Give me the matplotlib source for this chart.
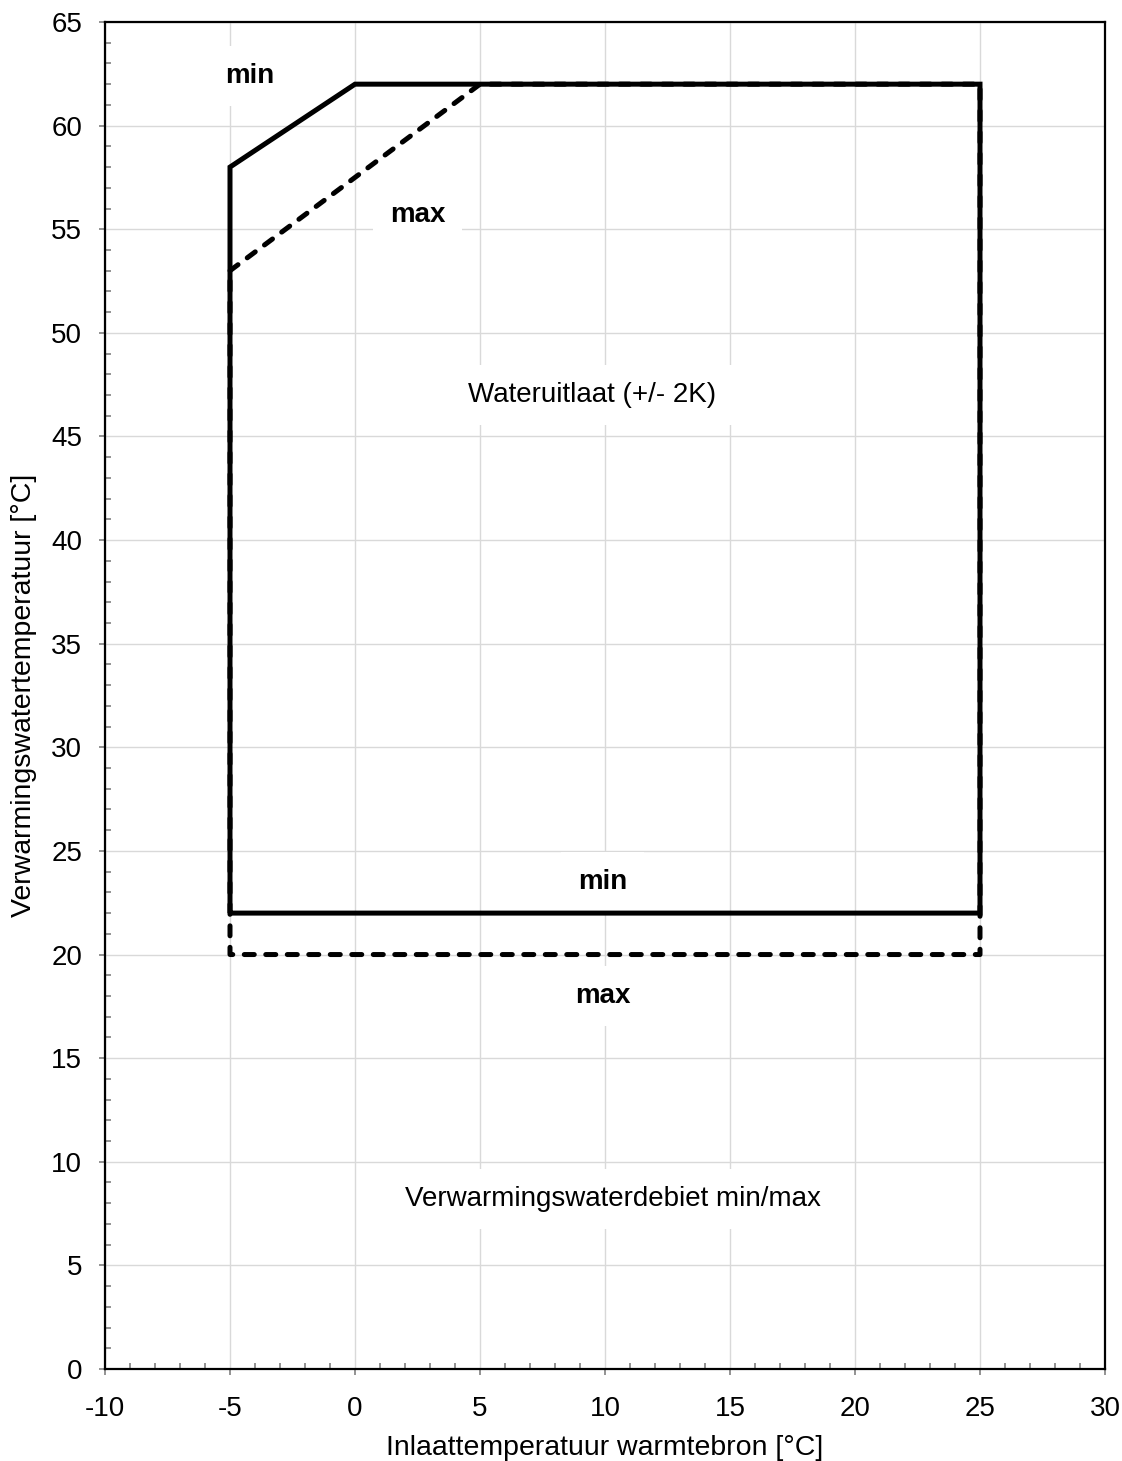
import matplotlib
matplotlib.use("Agg")
import matplotlib.pyplot as plt
from matplotlib.ticker import MultipleLocator

plt.rcParams['font.family'] = ['Liberation Sans', 'DejaVu Sans']
plt.rcParams['axes.unicode_minus'] = False

# Data
min_x = [-5, -5, 0, 25, 25, -5]
min_y = [22, 58, 62, 62, 22, 22]
max_x = [-5, 5, 25, 25, -5, -5]
max_y = [53, 62, 62, 20, 20, 53]

labels = [
    ("min", -4.2, 62.4, True),
    ("max", 2.5, 55.7, True),
    ("Wateruitlaat (+/- 2K)", 9.5, 47.0, False),
    ("min", 9.9, 23.5, True),
    ("max", 9.9, 18.0, True),
    ("Verwarmingswaterdebiet min/max", 10.3, 8.2, False),
]

fig = plt.figure(figsize=(11.22, 14.61), dpi=100)
ax = fig.add_axes([105/1122, 1 - 1369/1461, 1000/1122, 1347/1461])

ax.set_xlim(-10, 30)
ax.set_ylim(0, 65)
ax.xaxis.set_major_locator(MultipleLocator(5))
ax.yaxis.set_major_locator(MultipleLocator(5))
ax.xaxis.set_minor_locator(MultipleLocator(1))
ax.yaxis.set_minor_locator(MultipleLocator(1))
ax.grid(True, which='major', color='#d9d9d9', lw=1)
ax.set_axisbelow(True)
ax.tick_params(which='major', direction='out', length=4.5, width=1.2, labelsize=20,
               color='#808080', labelcolor='black')
ax.tick_params(axis='x', which='major', pad=15)
ax.tick_params(axis='y', which='major', pad=12)
ax.tick_params(which='minor', direction='in', length=4, width=1.2, color='#808080')
for s in ax.spines.values():
    s.set_linewidth(1.6)

ax.plot(max_x, max_y, color='black', lw=3.6, ls=(0, (2.0, 2.3)), dash_capstyle='round', zorder=3)
ax.plot(min_x, min_y, color='black', lw=3.6, solid_capstyle='butt', solid_joinstyle='miter', zorder=4)

for txt, x, y, bold in labels:
    ax.text(x, y, txt, ha='center', va='center', fontsize=20,
            fontweight='bold' if bold else 'normal',
            bbox=dict(facecolor='white', edgecolor='none', pad=12), zorder=2)

ax.set_xlabel("Inlaattemperatuur warmtebron [°C]", fontsize=20.5, labelpad=9)
ax.set_ylabel("Verwarmingswatertemperatuur [°C]", fontsize=20.5, labelpad=10)

fig.savefig("out.png", dpi=100)
